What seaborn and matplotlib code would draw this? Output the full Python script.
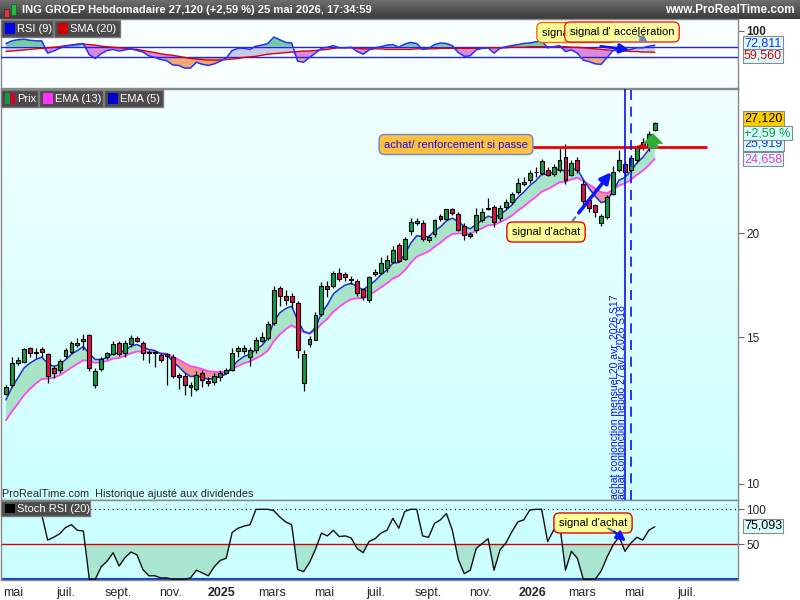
import numpy as np
import pandas as pd
import seaborn as sns
import matplotlib.pyplot as plt
import matplotlib.dates as mdates
from matplotlib.colors import LinearSegmentedColormap
from matplotlib.patches import Rectangle, FancyArrowPatch, Circle
from matplotlib.ticker import FixedLocator, NullLocator

# weekly candles of ING GROEP, first week shown
first_week = "2024-04-22"

opens = [12.82, 13.14, 13.98, 14.02, 14.54, 14.36, 14.50, 14.31, 13.76, 13.70,
         14.24, 14.38, 14.66, 14.83, 15.09, 13.14, 13.73, 14.18, 14.31, 14.76,
         14.34, 14.70, 14.98, 14.74, 14.41, 14.40, 14.27, 14.30, 14.20, 13.51,
         13.47, 13.06, 12.98, 13.57, 13.29, 13.24, 13.43, 13.60, 13.70, 14.44,
         14.44, 14.20, 14.47, 14.82, 14.95, 15.60, 17.20, 16.80, 16.80, 16.50,
         13.22, 14.72, 14.90, 16.00, 17.27, 17.27, 17.90, 17.86, 17.60, 17.50,
         17.12, 16.62, 17.85, 17.92, 18.15, 18.47, 19.35, 18.60, 20.10, 20.55,
         20.56, 19.60, 19.97, 20.95, 20.80, 21.38, 21.10, 20.40, 19.85, 20.16,
         20.73, 21.35, 21.50, 20.85, 21.47, 21.77, 22.38, 22.90, 23.15, 23.65,
         23.60, 23.80, 23.55, 23.80, 24.70, 23.50, 24.47, 22.90, 21.90, 21.60,
         20.54, 20.90, 22.30, 23.80, 24.20, 23.80, 24.50, 25.70, 25.35, 26.60]
highs = [13.14, 14.18, 14.18, 14.55, 14.60, 14.54, 14.60, 14.36, 13.85, 14.10,
         14.55, 14.85, 14.95, 15.13, 15.13, 13.76, 14.18, 14.40, 14.85, 14.85,
         14.90, 15.10, 15.05, 14.82, 14.47, 14.45, 14.34, 14.34, 14.30, 13.57,
         13.57, 13.26, 13.64, 13.70, 13.42, 13.57, 13.70, 13.78, 14.54, 14.63,
         14.68, 14.60, 15.00, 15.20, 15.70, 17.27, 17.27, 17.08, 16.95, 16.56,
         14.47, 15.05, 16.10, 17.45, 17.50, 18.00, 18.15, 17.95, 17.78, 17.62,
         17.20, 17.75, 18.10, 18.74, 18.83, 19.30, 19.45, 19.80, 20.85, 20.85,
         20.75, 19.90, 20.80, 21.10, 21.40, 21.45, 21.20, 20.55, 20.05, 21.45,
         21.45, 22.05, 21.60, 21.60, 21.95, 22.40, 23.30, 23.35, 23.80, 24.00,
         24.55, 24.00, 24.20, 25.30, 25.60, 24.50, 24.70, 23.16, 22.10, 21.70,
         21.10, 22.20, 24.10, 25.20, 24.40, 24.80, 25.50, 26.00, 26.50, 27.20]
lows = [12.78, 13.08, 13.90, 13.98, 14.20, 14.15, 14.20, 13.22, 13.38, 13.60,
        14.15, 14.34, 14.60, 14.47, 13.67, 13.02, 13.65, 14.10, 14.28, 14.25,
        14.20, 14.60, 14.78, 14.08, 13.95, 13.82, 14.00, 13.14, 13.38, 12.98,
        12.78, 12.76, 12.94, 13.05, 13.10, 13.13, 13.30, 13.58, 13.64, 14.20,
        14.30, 13.85, 14.35, 14.80, 14.90, 15.50, 16.35, 16.40, 16.25, 14.15,
        12.93, 14.60, 14.90, 15.90, 16.77, 17.20, 17.50, 17.50, 17.35, 16.80,
        16.62, 16.52, 17.78, 17.85, 17.95, 18.40, 18.45, 18.55, 19.90, 20.45,
        19.57, 19.50, 19.80, 20.70, 20.75, 21.00, 20.10, 19.60, 19.75, 20.00,
        20.65, 21.30, 20.35, 20.70, 21.35, 21.70, 22.30, 22.80, 23.00, 23.35,
        23.50, 23.40, 23.45, 23.65, 22.90, 23.40, 23.60, 21.50, 21.20, 20.90,
        20.40, 20.80, 22.20, 23.70, 23.50, 23.60, 24.30, 25.20, 25.10, 26.50]
closes = [13.06, 13.95, 14.08, 14.50, 14.34, 14.38, 14.38, 13.47, 13.60, 14.03,
          14.47, 14.74, 14.76, 14.93, 13.76, 13.64, 14.10, 14.34, 14.70, 14.31,
          14.74, 14.95, 14.83, 14.34, 14.34, 14.36, 14.08, 14.25, 13.47, 13.43,
          13.14, 13.15, 13.51, 13.32, 13.20, 13.47, 13.60, 13.70, 14.37, 14.54,
          14.55, 14.47, 14.88, 14.99, 15.55, 17.08, 16.80, 16.62, 16.55, 14.47,
          14.31, 14.92, 15.94, 17.27, 17.15, 17.90, 17.60, 17.70, 17.58, 16.95,
          16.77, 17.72, 17.97, 18.41, 18.56, 19.08, 18.50, 19.70, 20.62, 20.68,
          19.70, 19.80, 20.73, 20.82, 21.38, 21.15, 20.19, 19.90, 19.95, 21.00,
          21.20, 21.42, 20.65, 21.45, 21.81, 22.26, 23.00, 23.05, 23.62, 23.70,
          24.40, 23.50, 24.00, 24.47, 23.14, 24.28, 23.81, 21.87, 21.45, 21.20,
          20.98, 22.10, 23.70, 24.50, 23.70, 24.60, 25.35, 25.40, 26.30, 27.12]

# EMA values at the first visible week
ema5_start = 12.61
ema13_start = 11.92

rsi9 = [76, 81, 83, 84, 82, 81, 81, 58, 62, 67, 71, 73, 74, 76, 55, 48, 57, 63, 65, 62,
        64, 66, 63, 60, 53, 50, 46, 44, 36, 35, 30, 30, 41, 37, 35, 38, 43, 49, 63, 67,
        67, 65, 71, 73, 76, 88, 83, 78, 77, 43, 41, 50, 58, 67, 69, 72, 68, 68, 69, 61,
        56, 64, 68, 70, 73, 74, 69, 75, 78, 76, 65, 67, 74, 77, 76, 72, 59, 52, 53, 64,
        67, 68, 58, 67, 70, 72, 74, 76, 77, 79, 81, 68, 70, 72, 61, 64, 58, 45, 42, 38,
        37, 50, 63, 66, 63, 65, 68, 68, 71, 72.811]
rsi_sma20 = [61, 62, 63, 64, 65, 66, 67, 68, 69, 70, 72, 73, 75, 75, 74, 73, 71, 70, 69, 68,
             67, 66, 65, 63, 61, 59, 57, 55, 54, 52, 50, 48, 47, 46, 45, 45, 45, 46, 47, 48,
             50, 51, 52, 54, 56, 57, 58, 59, 60, 61, 62, 62, 63, 64, 65, 67, 68, 68, 68, 67,
             66, 66, 66, 66, 65, 65, 65, 65, 65, 66, 66, 66, 66, 67, 67, 67, 67, 67, 67, 67,
             67, 68, 68, 68, 68, 69, 69, 69, 70, 70, 70, 70, 70, 70, 70, 69, 69, 68, 67, 66,
             65, 64, 63, 62, 62, 61, 61, 60, 60, 59.56]
stoch_rsi = [92, 98, 100, 100, 100, 98, 93, 56, 60, 65, 74, 78, 70, 69, 0, 0, 18, 26, 38, 19,
             31, 39, 35, 14, 5, 5, 2, 2, 0, 0, 0, 2, 13, 9, 5, 18, 27, 30, 67, 73,
             76, 78, 100, 100, 100, 98, 89, 82, 78, 14, 11, 24, 43, 66, 62, 70, 61, 62, 59, 44,
             38, 54, 58, 66, 70, 87, 73, 97, 100, 100, 62, 60, 80, 85, 94, 70, 28, 8, 13, 44,
             51, 58, 13, 42, 52, 68, 82, 85, 99, 100, 100, 54, 70, 80, 13, 40, 30, 0, 0, 0,
             12, 32, 49, 61, 40, 52, 60, 56, 70, 75.093]

resistance = 25.37
signal_weeks = ["2026-04-20", "2026-04-27"]
month_ticks = ["2024-05-01", "2024-07-01", "2024-09-01", "2024-11-01", "2025-01-01", "2025-03-01",
               "2025-05-01", "2025-07-01", "2025-09-01", "2025-11-01", "2026-01-01", "2026-03-01",
               "2026-05-01", "2026-07-01"]
month_labels = ["mai", "juil.", "sept.", "nov.", "2025", "mars", "mai", "juil.", "sept.", "nov.",
                "2026", "mars", "mai", "juil."]

sns.set_style("white")
plt.rcParams["font.family"] = ["Liberation Sans", "DejaVu Sans"]

W, H = 800, 600


def fx(px):
    return px / W


def fy(py):
    return 1 - py / H


def ema(vals, span, start):
    s = pd.Series([start] + list(vals[1:]))
    return s.ewm(span=span, adjust=False).mean().to_numpy()


dates = pd.date_range(first_week, periods=len(closes), freq="7D")
x = mdates.date2num(dates)
o, hi, lo, c = (np.array(v, dtype=float) for v in (opens, highs, lows, closes))
ema5 = ema(closes, 5, ema5_start)
ema13 = ema(closes, 13, ema13_start)
rsi = np.array(rsi9, dtype=float)
sma = np.array(rsi_sma20, dtype=float)
sto = np.array(stoch_rsi, dtype=float)

fig = plt.figure(figsize=(8, 6), dpi=100)
fig.patch.set_facecolor("white")

r_rsi = [fx(1), fy(88), 737 / W, 69 / H]
r_px = [fx(1), fy(500), 737 / W, 411 / H]
r_st = [fx(1), fy(580), 737 / W, 80 / H]

# title bar
tb = fig.add_axes([0, fy(19), 1, 19 / H], zorder=-5)
tb.imshow(np.linspace(0, 1, 64).reshape(-1, 1), aspect="auto", origin="lower",
          cmap=LinearSegmentedColormap.from_list("tb", ["#3a3a3a", "#6e6e6e"]), extent=[0, 1, 0, 1])
tb.axis("off")
fig.add_artist(Rectangle((fx(4), fy(17)), 5 / W, 8 / H, transform=fig.transFigure, fc="#dd3344", ec="#552222", lw=0.5))
fig.add_artist(Rectangle((fx(11), fy(15)), 5 / W, 11 / H, transform=fig.transFigure, fc="#22bb44", ec="#225522", lw=0.5))
fig.text(fx(22), fy(10), "ING GROEP Hebdomadaire 27,120 (+2,59 %) 25 mai 2026, 17:34:59",
         color="white", fontsize=8, fontweight="bold", va="center")
fig.text(fx(795), fy(10), "www.ProRealTime.com", color="white", fontsize=8.5, fontweight="bold",
         va="center", ha="right")

# price background gradient
bg = fig.add_axes(r_px, zorder=-5)
bg.imshow(np.linspace(0, 1, 256).reshape(-1, 1), aspect="auto", origin="lower",
          cmap=LinearSegmentedColormap.from_list("bg", ["#ccffff", "#f2ffff"]), extent=[0, 1, 0, 1])
bg.axis("off")

ax_rsi = fig.add_axes(r_rsi)
ax_px = fig.add_axes(r_px, sharex=ax_rsi)
ax_st = fig.add_axes(r_st, sharex=ax_rsi)
ax_px.set_facecolor("none")
ax_rsi.set_facecolor("#f7ffff")
ax_st.set_facecolor("#ccffff")

# ---- RSI panel
ax_rsi.axhline(70, color="#2222ee", lw=1, zorder=3)
ax_rsi.axhline(50, color="#2222ee", lw=1, zorder=3)
ax_rsi.fill_between(x, rsi, 70, where=rsi > 70, interpolate=True, color="#72cf98", lw=0, zorder=1)
ax_rsi.fill_between(x, sma, np.minimum(rsi, 70), where=rsi > sma, interpolate=True, color="#c8cbe8", lw=0, zorder=1)
ax_rsi.fill_between(x, np.minimum(np.maximum(rsi, 50), sma), sma, where=rsi < sma, interpolate=True,
                    color="#dd88dd", lw=0, zorder=1)
ax_rsi.fill_between(x, rsi, 50, where=rsi < 50, interpolate=True, color="#f0a878", lw=0, zorder=1)
sns.lineplot(x=x, y=sma, ax=ax_rsi, color="#dd0000", lw=1, legend=False, zorder=4)
sns.lineplot(x=x, y=rsi, ax=ax_rsi, color="#2233ff", lw=1.1, legend=False, zorder=5)
ax_rsi.set_ylim(-7.2, 121.8)
ax_rsi.yaxis.set_major_locator(FixedLocator([100]))
ax_rsi.set_yticklabels(["100"], fontweight="bold", fontsize=9.5)

# ---- price panel
ax_px.set_yscale("log")
ax_px.fill_between(x, ema5, ema13, where=ema5 >= ema13, interpolate=True, color="#a8e4c6", lw=0, zorder=1)
ax_px.fill_between(x, ema5, ema13, where=ema5 < ema13, interpolate=True, color="#ec9494", lw=0, zorder=1)
sns.lineplot(x=x, y=ema13, ax=ax_px, color="#ff44ff", lw=1.3, legend=False, zorder=2)
sns.lineplot(x=x, y=ema5, ax=ax_px, color="#1f2fd0", lw=1.1, legend=False, zorder=2)
up = c >= o
ax_px.vlines(x, lo, hi, color="black", lw=0.9, zorder=3)
ax_px.bar(x, np.maximum(np.abs(c - o), 0.04), bottom=np.minimum(o, c), width=4.6,
          color=np.where(up, "#119a48", "#dc1446"), edgecolor="black", lw=0.8, zorder=4)
ax_px.hlines(resistance, mdates.datestr2num("2025-12-29"), mdates.datestr2num("2026-07-25"),
             color="#ee0000", lw=2, zorder=6)
ax_px.axvline(mdates.datestr2num(signal_weeks[0]), color="#1010ee", lw=1.2, zorder=6)
ax_px.axvline(mdates.datestr2num(signal_weeks[1]), color="#1010ee", lw=1.2, ls=(0, (6, 4)), zorder=6)
ax_px.set_ylim(9.56, 29.79)
ax_px.yaxis.set_major_locator(FixedLocator([10, 15, 20]))
ax_px.yaxis.set_minor_locator(NullLocator())
ax_px.set_yticklabels(["10", "15", "20"])

# ---- stochastic RSI panel
ax_st.fill_between(x, sto, 50, where=sto < 50, interpolate=True, color="#a8e6d2", lw=0, zorder=1)
ax_st.axhline(100, color="black", lw=0.8, ls=(0, (1, 3)), zorder=2)
ax_st.axhline(50, color="#dd0000", lw=1, zorder=2)
ax_st.axhline(0, color="#1144bb", lw=1.5, zorder=2)
sns.lineplot(x=x, y=sto, ax=ax_st, color="#111111", lw=1, legend=False, zorder=3)
ax_st.set_ylim(-1, 113.3)
ax_st.yaxis.set_major_locator(FixedLocator([50, 100]))
ax_st.set_yticklabels(["50", "100"])
ax_st.get_yticklabels()[1].set_fontweight("bold")
ax_st.get_yticklabels()[1].set_fontsize(9.5)

ax_st.set_xlim(x[0] - 5 / 5.96 * 7, x[0] + 733 / 5.96 * 7)
ax_st.xaxis.set_major_locator(FixedLocator(mdates.datestr2num(month_ticks)))
ax_st.set_xticklabels(month_labels)
for t in ax_st.get_xticklabels():
    if t.get_text() in ("2025", "2026"):
        t.set_fontweight("bold")
        t.set_fontsize(10.5)

for ax in (ax_rsi, ax_px, ax_st):
    ax.set_xlabel("")
    ax.set_ylabel("")
    ax.yaxis.tick_right()
    ax.tick_params(axis="y", direction="out", length=4, color="#666666", labelsize=8.5, pad=2)
    for sp in ax.spines.values():
        sp.set_color("#888888")
        sp.set_linewidth(1)
ax_rsi.tick_params(axis="x", bottom=False, labelbottom=False)
ax_px.tick_params(axis="x", bottom=False, labelbottom=False)
ax_st.tick_params(axis="x", length=0, pad=5, labelsize=9)


# ---- legend chips
def chip(x0, x1, y0, y1, label, swatches):
    fig.add_artist(Rectangle((fx(x0), fy(y1)), (x1 - x0) / W, (y1 - y0) / H, transform=fig.transFigure,
                             fc="#4b4b4b", ec="#7a7a7a", lw=1, zorder=15))
    sw = 10 / len(swatches)
    for k, col in enumerate(swatches):
        fig.add_artist(Rectangle((fx(x0 + 4 + k * sw), fy(y1 - 3)), sw / W, (y1 - y0 - 6) / H,
                                 transform=fig.transFigure, fc=col, ec="none", zorder=16))
    fig.text(fx(x0 + 16), fy((y0 + y1) / 2), label, color="white", fontsize=8, va="center", zorder=17)


chip(1, 53, 20, 37, "RSI (9)", ["#0000ee"])
chip(54, 120, 20, 37, "SMA (20)", ["#cc0000"])
chip(1, 38, 90, 107, "Prix", ["#119944", "#cc0033"])
chip(39, 103, 90, 107, "EMA (13)", ["#ff33ff"])
chip(104, 163, 90, 107, "EMA (5)", ["#0000cc"])
chip(1, 90, 501, 516, "Stoch RSI (20)", ["#000000"])

fig.text(fx(2), fy(494), "ProRealTime.com  Historique ajusté aux dividendes", fontsize=7.8, va="center")


# ---- value tags on the right
def tag(py, text, color, fc):
    fig.text(fx(744), fy(py), text, color=color, fontsize=9, va="center", ha="left", zorder=18,
             bbox=dict(boxstyle="square,pad=0.1", fc=fc, ec="#8a8a8a", lw=0.8))


tag(43.5, "72,811", "#2222ee", "#d8ffff")
tag(56, "59,560", "#dd0000", "#d8ffff")
tag(144, "25,919", "#2233dd", "#d8ffff")
tag(118.5, "27,120", "black", "#ffcc00")
tag(133, "+2,59 %", "#119933", "#d8ffff")
tag(159, "24,658", "#ff33cc", "#d8ffff")
tag(526, "75,093", "black", "#d8ffff")


# ---- notes and arrows
def note(px, py, text, fc, ec, color="black", size=8, alpha=1.0):
    fig.text(fx(px), fy(py), text, ha="center", va="center", fontsize=size, color=color, zorder=20,
             bbox=dict(boxstyle="round,pad=0.45,rounding_size=0.5", fc=fc, ec=ec, lw=1, alpha=alpha))


def arrow(p0, p1, color, lw, scale, style="-|>"):
    fig.add_artist(FancyArrowPatch((fx(p0[0]), fy(p0[1])), (fx(p1[0]), fy(p1[1])), transform=fig.transFigure,
                                   arrowstyle=style, mutation_scale=scale, color=color, lw=lw, zorder=21))


note(456, 144.5, "achat/ renforcement si passe", "#ffc040", "#6688cc", color="#1111ee")
note(546, 232, "signal d'achat", "#ffff99", "#ee0000")
arrow((571, 223), (577, 215), "#667788", 1.5, 1, style="-")
arrow((577, 215), (613, 170), "#0a14ff", 2.5, 16)
arrow((653, 151), (653, 131), "#33aa33", 0.5, 14, style="simple,head_length=0.5,head_width=1.0,tail_width=0.45")
fig.add_artist(Circle((fx(641), fy(147)), 2.2 / W, transform=fig.transFigure, color="#cc0000", zorder=21))

note(576, 32.5, "signal d'achat", "#ffff99", "#ff6600")
note(622, 32, "signal d' accélération", "#ffff99", "#ee0000", alpha=0.85)
arrow((598, 46), (632, 50), "#0a14ff", 2, 14)
arrow((636, 34), (650, 44), "#7788aa", 1.5, 10)

note(593, 523, "signal d'achat", "#ffff99", "#ee0000")
arrow((606, 527), (616, 533), "#667788", 1.5, 1, style="-")
arrow((612, 530), (628, 543), "#0a14ff", 1.8, 14)

fig.text(fx(615), fy(499), "achat conjonction mensuel 20 avr. 2026 S17", rotation=90, rotation_mode="anchor",
         ha="left", va="center", fontsize=7.5, color="#1111ee", zorder=19)
fig.text(fx(622), fy(499), "achat conjonction hebdo 27 avr. 2026 S18", rotation=90, rotation_mode="anchor",
         ha="left", va="center", fontsize=7.5, color="#1111ee", zorder=19)

fig.savefig("out.png", dpi=100)
